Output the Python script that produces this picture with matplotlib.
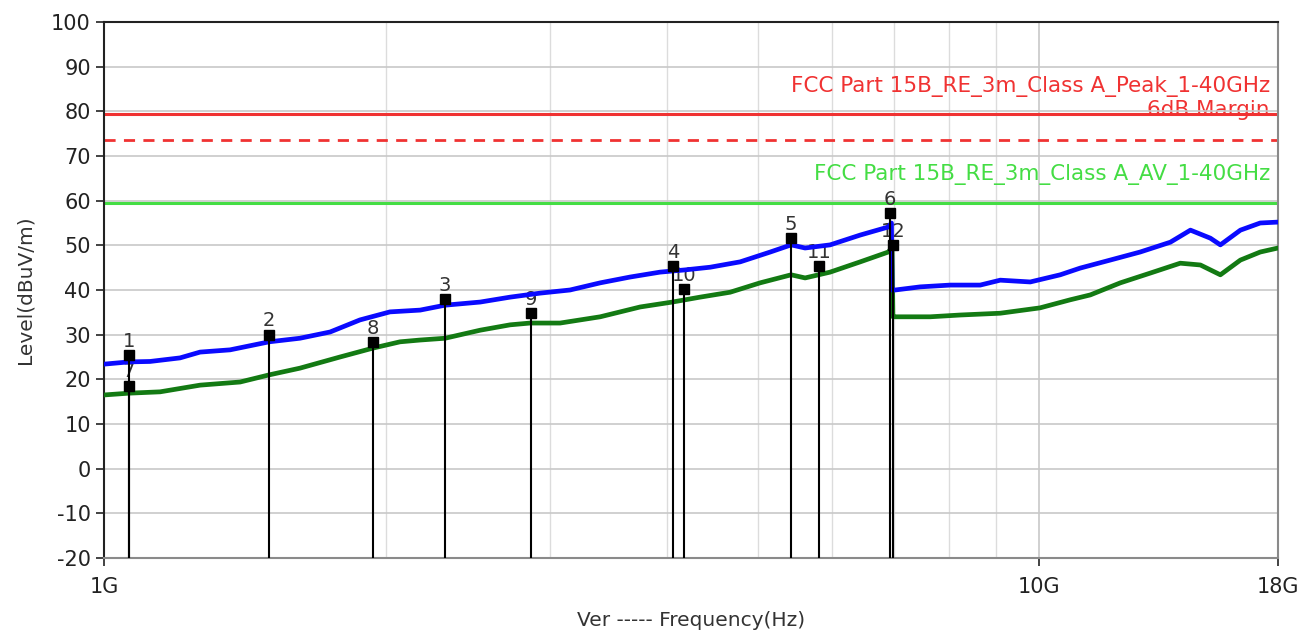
import matplotlib
matplotlib.use("Agg")
import matplotlib.pyplot as plt
from matplotlib.ticker import FixedLocator, NullFormatter

# ---- data (frequency in GHz, level in dBuV/m) ----
peak_freq = [1.000, 1.063, 1.120, 1.206, 1.267, 1.364, 1.502, 1.620, 1.745, 1.878, 2.022,
             2.178, 2.316, 2.525, 2.718, 2.927, 3.150, 3.393, 3.652, 3.932, 4.182, 4.448,
             4.789, 5.157, 5.429, 5.619, 5.976, 6.436, 6.896, 6.950,
             6.960, 7.015, 7.460, 8.031, 8.647, 9.085, 9.781, 10.53, 11.06, 11.91, 12.82,
             13.81, 14.51, 15.24, 15.62, 16.41, 17.23, 18.00]
peak_level = [23.4, 23.9, 24.0, 24.8, 26.1, 26.6, 28.4, 29.2, 30.6, 33.3, 35.1,
              35.5, 36.6, 37.3, 38.4, 39.3, 40.0, 41.6, 42.9, 44.0, 44.5, 45.1,
              46.3, 48.5, 50.1, 49.4, 50.1, 52.3, 54.1, 55.0,
              40.0, 40.0, 40.7, 41.1, 41.1, 42.2, 41.8, 43.4, 44.9, 46.7, 48.5,
              50.7, 53.4, 51.6, 50.1, 53.4, 55.0, 55.2]

av_freq = [1.000, 1.063, 1.148, 1.267, 1.398, 1.502, 1.620, 1.788, 1.940, 2.073, 2.178,
           2.316, 2.525, 2.718, 2.855, 3.074, 3.393, 3.744, 4.052, 4.339, 4.672, 5.030,
           5.429, 5.619, 5.976, 6.436, 6.896, 6.960,
           6.975, 7.015, 7.646, 8.232, 9.085, 10.02, 10.79, 11.34, 12.21, 13.15, 14.15,
           14.87, 15.62, 16.41, 17.23, 18.00]
av_level = [16.5, 16.9, 17.2, 18.7, 19.4, 21.0, 22.5, 25.0, 27.0, 28.4, 28.8,
            29.2, 31.0, 32.2, 32.6, 32.6, 34.0, 36.2, 37.3, 38.4, 39.5, 41.6,
            43.4, 42.7, 44.0, 46.3, 48.5, 49.5,
            34.0, 34.0, 34.0, 34.4, 34.8, 36.0, 37.8, 38.9, 41.6, 43.8, 46.0,
            45.6, 43.4, 46.7, 48.5, 49.4]

peak_limit = 79.5
margin_limit = 73.5
av_limit = 59.5

peak_marker_ids = ["1", "2", "3", "4", "5", "6"]
peak_marker_freq = [1.063, 1.50, 2.316, 4.06, 5.43, 6.93]
peak_marker_level = [25.4, 30.0, 38.0, 45.4, 51.6, 57.2]

av_marker_ids = ["7", "8", "9", "10", "11", "12"]
av_marker_freq = [1.063, 1.94, 2.86, 4.17, 5.82, 6.98]
av_marker_level = [18.6, 28.3, 34.8, 40.2, 45.4, 50.0]

x_ticks = [1.0, 10.0, 18.0]
x_ticklabels = ["1G", "10G", "18G"]
x_minor = [2, 3, 4, 5, 6, 7, 8, 9]
y_ticks = list(range(-20, 101, 10))

# ---- figure ----
plt.rcParams['font.family'] = ['DejaVu Sans']
plt.rcParams['axes.unicode_minus'] = False
fig = plt.figure(figsize=(13.03, 6.37), dpi=100)
ax = fig.add_axes([0.0798, 0.124, 0.901, 0.8415])

ax.set_xscale('log')
ax.set_xlim(1.0, 18.0)
ax.set_ylim(-20, 100)

# grid
ax.set_yticks(y_ticks)
ax.xaxis.set_major_locator(FixedLocator(x_ticks))
ax.set_xticklabels(x_ticklabels)
ax.xaxis.set_minor_locator(FixedLocator(x_minor))
ax.xaxis.set_minor_formatter(NullFormatter())
ax.grid(True, which='major', color='#c8c8c8', lw=1.2, zorder=0)
ax.grid(True, which='minor', axis='x', color='#dcdcdc', lw=1.0, zorder=0)
ax.tick_params(axis='x', which='minor', length=0)
ax.tick_params(axis='both', which='major', labelsize=15, colors='#222222', length=6, width=1.2)
ax.tick_params(axis='x', which='major', pad=8)

for s in ['left', 'top']:
    ax.spines[s].set_color('#222222')
    ax.spines[s].set_linewidth(1.5)
for s in ['right', 'bottom']:
    ax.spines[s].set_color('#8a8a8a')
    ax.spines[s].set_linewidth(1.5)

# limits
ax.axhline(peak_limit, color='#f03232', lw=2.2, zorder=2)
ax.axhline(margin_limit, color='#f03232', lw=2.0, ls=(0, (4, 3)), zorder=2)
ax.axhline(av_limit, color='#44dd44', lw=2.2, zorder=2)

ax.text(0.993, 85.5, "FCC Part 15B_RE_3m_Class A_Peak_1-40GHz", transform=ax.get_yaxis_transform(),
        ha='right', va='center', color='#f03232', fontsize=15.5, zorder=3)
ax.text(0.993, 80.2, "6dB Margin", transform=ax.get_yaxis_transform(),
        ha='right', va='center', color='#f03232', fontsize=15.5, zorder=1)
ax.text(0.993, 65.8, "FCC Part 15B_RE_3m_Class A_AV_1-40GHz", transform=ax.get_yaxis_transform(),
        ha='right', va='center', color='#44dd44', fontsize=15.5, zorder=3)

# AV marker labels (drawn under traces)
for lab, f, v in zip(av_marker_ids, av_marker_freq, av_marker_level):
    ax.annotate(lab, (f, v), xytext=(0, 3), textcoords='offset points',
                ha='center', va='bottom', fontsize=14, color='#333333', zorder=3)

# traces
ax.plot(av_freq, av_level, color='#137a13', lw=3.4, zorder=4)
ax.plot(peak_freq, peak_level, color='#0a0aff', lw=3.4, zorder=5)

# marker stems and squares
for f, v in zip(peak_marker_freq + av_marker_freq, peak_marker_level + av_marker_level):
    ax.plot([f, f], [-20, v], color='black', lw=1.5, zorder=6)
ax.plot(peak_marker_freq + av_marker_freq, peak_marker_level + av_marker_level,
        ls='none', marker='s', ms=7, color='black', zorder=7)

# peak marker labels (above traces)
for lab, f, v in zip(peak_marker_ids, peak_marker_freq, peak_marker_level):
    ax.annotate(lab, (f, v), xytext=(0, 3), textcoords='offset points',
                ha='center', va='bottom', fontsize=14, color='#333333', zorder=8)

ax.set_ylabel("Level(dBuV/m)", fontsize=14.5, color='#333333', labelpad=12)
ax.set_xlabel("Ver ----- Frequency(Hz)", fontsize=14.5, color='#333333', labelpad=10)

fig.savefig("out.png", dpi=100)
